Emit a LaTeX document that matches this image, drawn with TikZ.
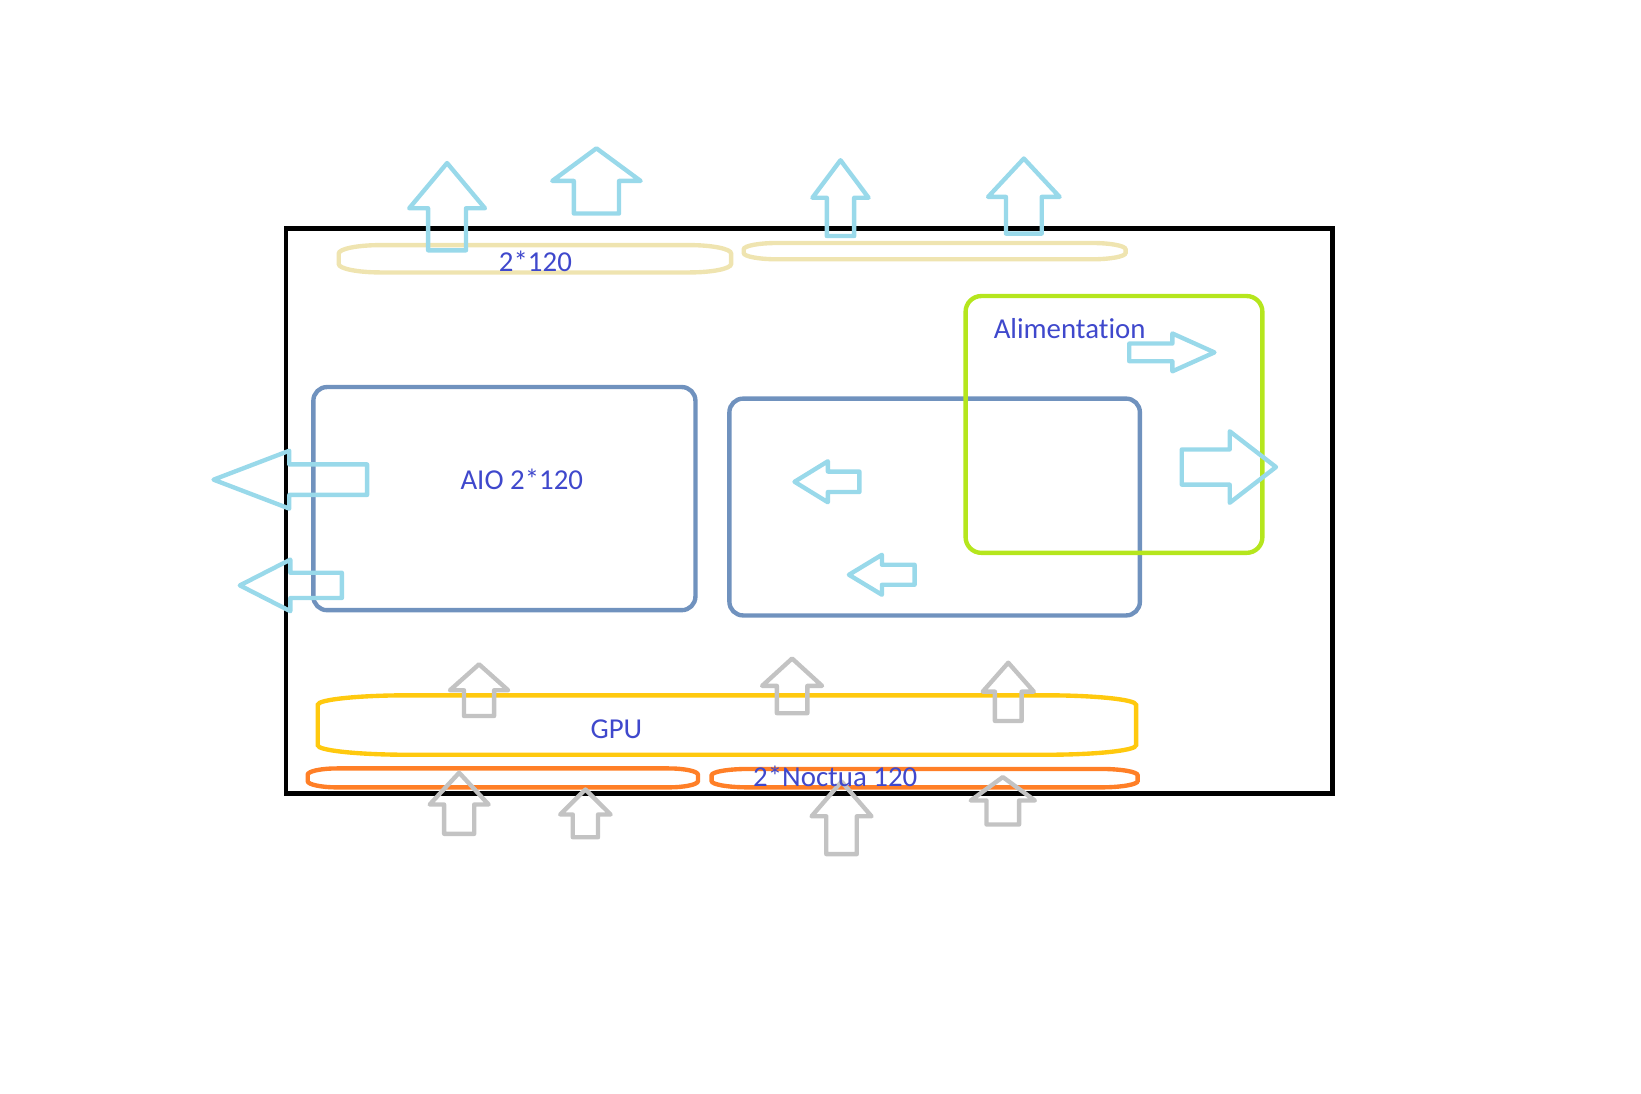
\documentclass[tikz,border=0pt]{standalone}
\usepackage{fontspec}
\setmainfont[Ligatures={NoCommon}]{Carlito}
\definecolor{cyanA}{HTML}{99D9EA}
\definecolor{beigeA}{HTML}{EFE4B0}
\definecolor{blueA}{HTML}{7092BE}
\definecolor{limeA}{HTML}{B5E61D}
\definecolor{yellowA}{HTML}{FFC90E}
\definecolor{orangeA}{HTML}{FF7F27}
\definecolor{grayA}{HTML}{C3C3C3}
\definecolor{indigoA}{HTML}{3F48CC}
\newcommand\uparr[7]{\draw[#1] (#2,#3) -- ({#2+#4},#5) -- ({#2+#6},#5) -- ({#2+#6},#7) -- ({#2-#6},#7) -- ({#2-#6},#5) -- ({#2-#4},#5) -- cycle;}
\newcommand\horarr[7]{\draw[#1] (#2,#3) -- (#4,{#3-#5}) -- (#4,{#3-#6}) -- (#7,{#3-#6}) -- (#7,{#3+#6}) -- (#4,{#3+#6}) -- (#4,{#3+#5}) -- cycle;}
\newcommand\pill[7]{\draw[#1] ({#2+#6},#3) -- ({#4-#6},#3) .. controls ({#4-0.448*#6},#3) and (#4,{#3+0.448*#7}) .. (#4,{#3+#7}) -- (#4,{#5-#7}) .. controls (#4,{#5-0.448*#7}) and ({#4-0.448*#6},#5) .. ({#4-#6},#5) -- ({#2+#6},#5) .. controls ({#2+0.448*#6},#5) and (#2,{#5-0.448*#7}) .. (#2,{#5-#7}) -- (#2,{#3+#7}) .. controls (#2,{#3+0.448*#7}) and ({#2+0.448*#6},#3) .. ({#2+#6},#3) -- cycle;}
\begin{document}
\begin{tikzpicture}[x=0.01cm,y=-0.01cm,
  lw/.style={line width=1.18pt},
  casebox/.style={draw=black,line width=1.25pt,minimum width=9.94cm,minimum height=5.37cm,inner sep=0pt},
  partbox/.style={draw=blueA,lw,rounded corners=0.13cm,inner sep=0pt},
  psubox/.style={draw=limeA,lw,rounded corners=0.15cm,inner sep=0pt,minimum width=2.82cm,minimum height=2.44cm},
  label/.style={text=indigoA,font=\fontsize{7.8}{9}\selectfont,inner sep=0pt},
  airout/.style={draw=cyanA,lw,line join=round},
  airin/.style={draw=grayA,lw,line join=round},
  fantop/.style={draw=beigeA,lw},
  fanbot/.style={draw=orangeA,lw},
  gpu/.style={draw=yellowA,lw}]
\useasboundingbox (0,0) rectangle (1560,1040);
% case
\node[casebox] (case) at (769.2,485.7) {};
% top fans
\pill{fantop}{322}{233}{695}{259}{40}{8}
\pill{fantop}{707}{231}{1070}{246.5}{32}{6}
% boxes
\node[partbox,minimum width=3.63cm,minimum height=2.12cm] (aio) at (479.5,474) {};
\node[partbox,minimum width=3.90cm,minimum height=2.06cm] (mb) at (888.5,482) {};
\node[psubox] (psu) at (1059,403.5) {};
% GPU and bottom fans
\pill{gpu}{302}{661}{1080}{717.5}{86}{9}
\pill{fanbot}{292.5}{730.5}{663.5}{748.5}{28}{6}
\pill{fanbot}{676.5}{731}{1081.5}{748.5}{35}{6}
% cyan exhaust arrows (up)
\uparr{airout}{425}{155}{36}{198}{18}{238}
\uparr{airout}{567}{141}{42}{172}{21.5}{203}
\uparr{airout}{799}{152.3}{26.7}{188}{13}{224.4}
\uparr{airout}{973.3}{150.7}{34}{187.2}{17}{222.1}
% cyan horizontal arrows
\horarr{airout}{203}{456}{275}{27.5}{14.5}{349}
\horarr{airout}{228}{556.5}{276}{24.5}{12}{325}
\horarr{airout}{755.3}{458}{787}{19.5}{9.7}{817}
\horarr{airout}{807}{546.4}{838.4}{19}{9.5}{869.5}
\horarr{airout}{1213}{444}{1169}{34}{16.7}{1123.4}
\horarr{airout}{1154.5}{335}{1114.5}{18}{8.4}{1073.5}
% gray intake arrows
\uparr{airin}{455.4}{631.5}{27.7}{656.2}{14.3}{680.7}
\uparr{airin}{753}{626}{28.5}{652}{14.5}{678}
\uparr{airin}{958.5}{630}{24.3}{657.5}{12.7}{685.4}
\uparr{airin}{436.5}{734.6}{28}{764.8}{14.3}{792.7}
\uparr{airin}{556.5}{750.5}{24}{774.3}{12}{795.9}
\uparr{airin}{800}{743}{28.5}{776}{14.5}{812}
\uparr{airin}{953.3}{738.7}{30.5}{761}{15.5}{783.8}
% labels
\node[label] (t1) at (509,248) {2*120};
\node[label] (t2) at (496,456) {AIO 2*120};
\node[label,anchor=west] (t3) at (944,312) {Alimentation};
\node[label] (t4) at (586,693.3) {GPU};
\node[label] (t5) at (794,738) {2*Noctua 120};
\end{tikzpicture}
\end{document}
